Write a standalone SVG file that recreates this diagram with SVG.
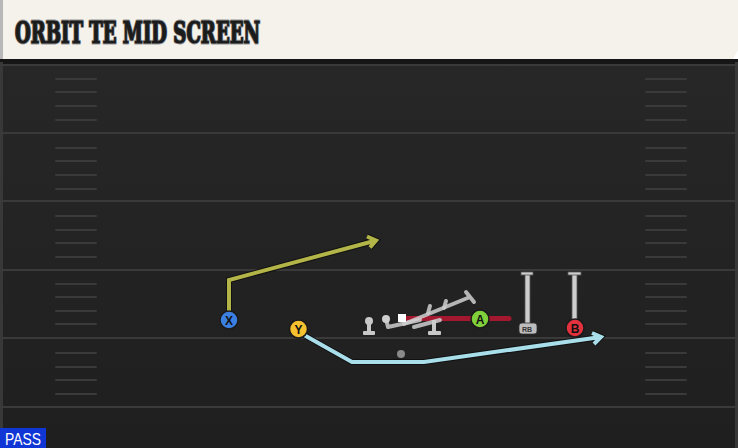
<svg xmlns="http://www.w3.org/2000/svg" width="738" height="448" viewBox="0 0 738 448">
<defs>
<linearGradient id="fieldG" x1="0" y1="0" x2="0" y2="1">
<stop offset="0" stop-color="#272727"/>
<stop offset="1" stop-color="#1f1f1f"/>
</linearGradient>
<style>
.yard{stroke:#3a3a3a;stroke-width:2}
.hash{stroke:#3a3a3a;stroke-width:2;stroke-linecap:round}
.out{fill:none;stroke:#111;stroke-linejoin:miter;stroke-linecap:butt}
.blk{fill:none;stroke:#cfcfcf;stroke-width:4;stroke-linecap:round;stroke-linejoin:round;opacity:0.85}
.post{fill:#c8c8c8}
.bar{fill:#cdcdcd;stroke:#555;stroke-width:0.8}
.circ{stroke:#1a1a1a;stroke-width:1.5}
.lbl{font-family:"Liberation Sans","DejaVu Sans",sans-serif;font-weight:bold;font-size:12px;fill:#111;text-anchor:middle}
.ttl{font-family:"DejaVu Serif","Liberation Serif",serif;font-weight:bold;font-stretch:condensed;font-size:29px}
</style>
</defs>
<!-- field -->
<rect x="0" y="59" width="738" height="389" fill="url(#fieldG)"/>
<rect x="0" y="59" width="738" height="5" fill="#161616"/>
<rect x="0" y="62" width="3" height="386" fill="#383838"/>
<rect x="735" y="62" width="3" height="386" fill="#383838"/>
<g id="yardlines">
<line class="yard" x1="0" y1="65" x2="738" y2="65"/>
<line class="yard" x1="0" y1="133" x2="738" y2="133"/>
<line class="yard" x1="0" y1="201" x2="738" y2="201"/>
<line class="yard" x1="0" y1="270" x2="738" y2="270"/>
<line class="yard" x1="0" y1="338" x2="738" y2="338"/>
<line class="yard" x1="0" y1="407" x2="738" y2="407"/>
</g>
<g id="hashes">
<path class="hash" d="M56,79H96M56,92H96M56,106H96M56,120H96M56,148H96M56,161H96M56,175H96M56,189H96M56,216H96M56,230H96M56,243H96M56,257H96M56,284H96M56,297H96M56,311H96M56,324H96M56,353H96M56,367H96M56,380H96M56,394H96"/>
<path class="hash" d="M646,79H686M646,92H686M646,106H686M646,120H686M646,148H686M646,161H686M646,175H686M646,189H686M646,216H686M646,230H686M646,243H686M646,257H686M646,284H686M646,297H686M646,311H686M646,324H686M646,353H686M646,367H686M646,380H686M646,394H686"/>
</g>
<!-- header -->
<g id="header">
<path d="M0,0H738V50L733,59H0Z" fill="#f5f2eb"/>
<rect x="0" y="0" width="3" height="59" fill="#b8b8b8"/>
<text class="ttl" x="15" y="42.5" fill="#1b1b1b" stroke="#9a9a9a" stroke-width="3" stroke-linejoin="round" textLength="245" lengthAdjust="spacingAndGlyphs">ORBIT TE MID SCREEN</text>
<text class="ttl" x="15" y="42.5" fill="#1b1b1b" stroke="#1b1b1b" stroke-width="1.2" stroke-linejoin="round" textLength="245" lengthAdjust="spacingAndGlyphs">ORBIT TE MID SCREEN</text>
</g>
<!-- connectors -->
<g id="connectors">
<path class="out" stroke-width="6" d="M229,311V280L376,240.5M367,236.5L376,240.5L370,247.5"/>
<path fill="none" stroke="#b4b548" stroke-width="4" stroke-linejoin="miter" d="M229,311V280L376,240.5M367,236.5L376,240.5L370,247.5"/>
<path class="out" stroke-width="6" d="M304,335L352,362H424L601,337M592,333L601,337L594,344"/>
<path fill="none" stroke="#a9dfea" stroke-width="4" stroke-linejoin="miter" d="M304,335L352,362H424L601,337M592,333L601,337L594,344"/>
<line x1="402" y1="318.5" x2="509" y2="318.5" stroke="#a3172f" stroke-width="5" stroke-linecap="round"/>
</g>
<!-- linemen / blockers -->
<g id="line-left">
<circle class="post" cx="369" cy="321" r="4"/>
<rect class="post" x="367" y="321" width="4" height="12"/>
<rect class="post" x="363" y="331" width="12" height="4" rx="1"/>
</g>
<g id="line-right">
<rect class="post" x="432" y="320" width="4" height="13"/>
<rect class="post" x="428" y="331" width="13" height="4" rx="1"/>
</g>
<g id="blocks">
<circle cx="386" cy="319" r="4" fill="#cfcfcf"/>
<path class="blk" d="M386,319L388,327L420,320"/>
<path class="blk" d="M404,324L470,297M466,292L474,302"/>
<path class="blk" d="M414,327L440,320"/>
<path class="blk" d="M428,313L430,306M444,308L446,301"/>
</g>
<g id="center">
<rect x="398" y="314" width="8" height="8" fill="#ffffff"/>
</g>
<g id="qb">
<circle cx="401" cy="354" r="4" fill="#8a8a8a"/>
</g>
<g id="rb">
<rect class="bar" x="525" y="274" width="5" height="50"/>
<rect class="bar" x="521" y="272" width="12" height="3"/>
<rect x="519" y="323" width="18" height="11" rx="3" fill="#bdbdbd" stroke="#333" stroke-width="0.8"/>
<text x="527" y="331.5" font-family="'Liberation Sans','DejaVu Sans',sans-serif" font-weight="bold" font-size="7" fill="#333" text-anchor="middle">RB</text>
</g>
<g id="b-bar">
<rect class="bar" x="572" y="274" width="5" height="48"/>
<rect class="bar" x="568" y="272" width="13" height="3"/>
</g>
<g id="node-x">
<circle class="circ" cx="229" cy="320" r="9" fill="#3b7fe0"/>
<text class="lbl" x="229" y="324.5">X</text>
</g>
<g id="node-y">
<circle class="circ" cx="298.5" cy="329" r="9" fill="#f5c12f"/>
<text class="lbl" x="298.5" y="333.5">Y</text>
</g>
<g id="node-a">
<circle class="circ" cx="480" cy="319" r="9" fill="#7fd03b"/>
<text class="lbl" x="480" y="323.5">A</text>
</g>
<g id="node-b">
<circle class="circ" cx="575" cy="328" r="9" fill="#e2323d"/>
<text class="lbl" x="575" y="332.5">B</text>
</g>
<g id="pass">
<rect x="0" y="428" width="46" height="20" fill="#1136d6"/>
<text x="5" y="444.5" font-family="'Liberation Sans','DejaVu Sans',sans-serif" font-size="17" fill="#ffffff" textLength="36" lengthAdjust="spacingAndGlyphs">PASS</text>
</g>
</svg>
